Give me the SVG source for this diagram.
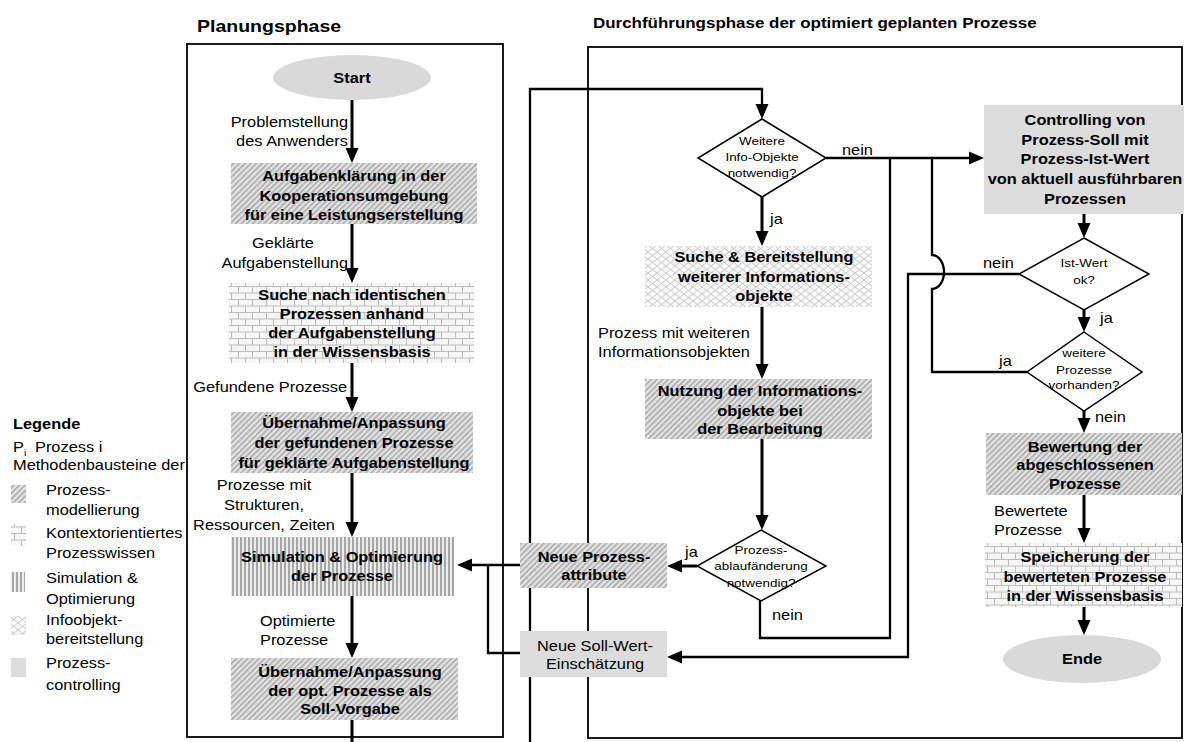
<svg xmlns="http://www.w3.org/2000/svg" width="1184" height="742" viewBox="0 0 1184 742">
  <style>
    .t { font-family: "Liberation Sans", Arial, sans-serif; font-size: 14px; fill: #000; }
    .b { font-weight: bold; }
    .c { text-anchor: middle; }
    .e { text-anchor: end; }
    .s { font-size: 11.5px; }
    .frame { fill: none; stroke: #1a1a1a; stroke-width: 2; }
    .flow { fill: none; stroke: #000; stroke-width: 3; }
    .link { fill: none; stroke: #000; stroke-width: 2.3; }
    .dia { fill: #fff; stroke: #000; stroke-width: 1.5; }
  </style>
  <defs>
    <marker id="arr" markerUnits="userSpaceOnUse" markerWidth="16" markerHeight="14" refX="11" refY="7" orient="auto">
      <path d="M0,0.5 L15,7 L0,13.5 z" fill="#000"/>
    </marker>
    <!-- Prozessmodellierung: diagonal hatch -->
    <pattern id="hatch" width="4" height="4" patternUnits="userSpaceOnUse" patternTransform="rotate(45)">
      <rect width="4" height="4" fill="#e3e3e3"/>
      <rect width="1.6" height="4" fill="#a9a9a9"/>
    </pattern>
    <!-- Kontextorientiertes Prozesswissen: brick -->
    <pattern id="brick" width="14" height="13" patternUnits="userSpaceOnUse">
      <rect width="14" height="13" fill="#f6f6f6"/>
      <path d="M0,0.5H14 M0,7H14 M0.5,0V7 M7.5,7V13" stroke="#bcbcbc" stroke-width="1"/>
    </pattern>
    <!-- Simulation & Optimierung: vertical stripes -->
    <pattern id="stripes" width="4" height="10" patternUnits="userSpaceOnUse">
      <rect width="4" height="10" fill="#ebebeb"/>
      <rect width="2" height="10" fill="#a6a6a6"/>
    </pattern>
    <!-- Infoobjektbereitstellung: cross mesh -->
    <pattern id="cross" width="9" height="7" patternUnits="userSpaceOnUse">
      <rect width="9" height="7" fill="#f8f8f8"/>
      <path d="M0,0L9,7M0,7L9,0" stroke="#c2c2c2" stroke-width="0.9"/>
    </pattern>
  </defs>

  <rect width="1184" height="742" fill="#fff"/>

  <!-- phase titles and frames -->
  <g id="phases">
    <text class="t b" transform="translate(197 32) scale(1.22 1)" style="font-size:16px">Planungsphase</text>
    <text class="t b" transform="translate(593 28) scale(1.17 1)" style="font-size:14.5px">Durchführungsphase der optimiert geplanten Prozesse</text>
    <rect class="frame" x="187" y="44" width="316" height="693"/>
    <rect class="frame" x="588" y="47" width="594" height="691"/>
  </g>

  <!-- connectors -->
  <g id="connectors">
    <path class="flow" d="M352,100V159" marker-end="url(#arr)"/>
    <path class="flow" d="M352,224V279" marker-end="url(#arr)"/>
    <path class="flow" d="M352,363V408" marker-end="url(#arr)"/>
    <path class="flow" d="M352,473V533" marker-end="url(#arr)"/>
    <path class="flow" d="M352,596V654" marker-end="url(#arr)"/>
    <path class="flow" d="M352,720V742"/>

    <path class="link" d="M530,742V89H762V115" marker-end="url(#arr)"/>
    <path class="flow" d="M762,197V242" marker-end="url(#arr)"/>
    <path class="flow" d="M762,307V375" marker-end="url(#arr)"/>
    <path class="flow" d="M762,439V526" marker-end="url(#arr)"/>
    <path class="flow" d="M697,566H671" marker-end="url(#arr)"/>
    <path class="link" d="M520,565H461" marker-end="url(#arr)"/>
    <path class="link" d="M520,653H488V565"/>
    <path class="link" d="M760,601V638H890V158"/>
    <path class="link" d="M826,158H980" marker-end="url(#arr)"/>
    <path class="link" d="M1027,372H932V289A12,17 0 0 0 932,255V158"/>
    <path class="link" d="M1019,274H908V657H671" marker-end="url(#arr)"/>

    <path class="flow" d="M1084,214V234" marker-end="url(#arr)"/>
    <path class="flow" d="M1084,310V328" marker-end="url(#arr)"/>
    <path class="flow" d="M1084,411V429" marker-end="url(#arr)"/>
    <path class="flow" d="M1084,495V539" marker-end="url(#arr)"/>
    <path class="flow" d="M1084,607V631" marker-end="url(#arr)"/>
  </g>

  <!-- connector labels -->
  <g id="labels">
    <text class="t e" transform="translate(348 127) scale(1.17 1)"><tspan x="0">Problemstellung</tspan><tspan x="0" dy="19">des Anwenders</tspan></text>
    <text class="t c" transform="translate(283 248) scale(1.17 1)">Geklärte</text>
    <text class="t e" transform="translate(348 268) scale(1.17 1)">Aufgabenstellung</text>
    <text class="t e" transform="translate(347 392) scale(1.17 1)">Gefundene Prozesse</text>
    <text class="t c" transform="translate(264 490) scale(1.17 1)"><tspan x="0">Prozesse mit</tspan><tspan x="0" dy="20">Strukturen,</tspan><tspan x="0" dy="20">Ressourcen, Zeiten</tspan></text>
    <text class="t" transform="translate(260 626) scale(1.17 1)"><tspan x="0">Optimierte</tspan><tspan x="0" dy="19">Prozesse</tspan></text>

    <text class="t" transform="translate(842 155) scale(1.17 1)">nein</text>
    <text class="t" transform="translate(770 224) scale(1.17 1)">ja</text>
    <text class="t" transform="translate(598 338) scale(1.17 1)"><tspan x="0">Prozess mit weiteren</tspan><tspan x="0" dy="19">Informationsobjekten</tspan></text>
    <text class="t" transform="translate(685 557) scale(1.17 1)">ja</text>
    <text class="t" transform="translate(772 620) scale(1.17 1)">nein</text>

    <text class="t" transform="translate(983 268) scale(1.17 1)">nein</text>
    <text class="t" transform="translate(1100 323) scale(1.17 1)">ja</text>
    <text class="t" transform="translate(999 366) scale(1.17 1)">ja</text>
    <text class="t" transform="translate(1095 422) scale(1.17 1)">nein</text>
    <text class="t" transform="translate(994 516) scale(1.17 1)"><tspan x="0">Bewertete</tspan><tspan x="0" dy="19">Prozesse</tspan></text>
  </g>

  <!-- planning phase nodes -->
  <g id="start">
    <ellipse cx="352" cy="77.5" rx="79" ry="22.5" fill="#d9d9d9"/>
    <text class="t b c" transform="translate(352 83) scale(1.17 1)">Start</text>
  </g>
  <g id="aufgabenklaerung">
    <rect x="231" y="163" width="246" height="61" fill="url(#hatch)"/>
    <text class="t b c" transform="translate(354 181) scale(1.17 1)"><tspan x="0">Aufgabenklärung in der</tspan><tspan x="0" dy="20">Kooperationsumgebung</tspan><tspan x="0" dy="19">für eine Leistungserstellung</tspan></text>
  </g>
  <g id="suche-prozesse">
    <rect x="229" y="283" width="245" height="80" fill="url(#brick)"/>
    <text class="t b c" transform="translate(352 300) scale(1.17 1)"><tspan x="0">Suche nach identischen</tspan><tspan x="0" dy="19">Prozessen anhand</tspan><tspan x="0" dy="19">der Aufgabenstellung</tspan><tspan x="0" dy="19">in der Wissensbasis</tspan></text>
  </g>
  <g id="uebernahme-gefunden">
    <rect x="231" y="412" width="242" height="61" fill="url(#hatch)"/>
    <text class="t b c" transform="translate(354 428) scale(1.17 1)"><tspan x="0">Übernahme/Anpassung</tspan><tspan x="0" dy="20">der gefundenen Prozesse</tspan><tspan x="0" dy="20">für geklärte Aufgabenstellung</tspan></text>
  </g>
  <g id="simulation">
    <rect x="231" y="537" width="223" height="59" fill="url(#stripes)"/>
    <text class="t b c" transform="translate(342 562) scale(1.17 1)"><tspan x="0">Simulation &amp; Optimierung</tspan><tspan x="0" dy="19">der Prozesse</tspan></text>
  </g>
  <g id="uebernahme-opt">
    <rect x="231" y="658" width="227" height="62" fill="url(#hatch)"/>
    <text class="t b c" transform="translate(350 677) scale(1.17 1)"><tspan x="0">Übernahme/Anpassung</tspan><tspan x="0" dy="19">der opt. Prozesse als</tspan><tspan x="0" dy="18">Soll-Vorgabe</tspan></text>
  </g>

  <!-- execution phase nodes -->
  <g id="neue-attribute">
    <rect x="520" y="543" width="147" height="45" fill="url(#hatch)"/>
    <text class="t b c" transform="translate(594 562) scale(1.17 1)"><tspan x="0">Neue Prozess-</tspan><tspan x="0" dy="18">attribute</tspan></text>
  </g>
  <g id="neue-soll-wert">
    <rect x="520" y="631" width="147" height="46" fill="#dcdcdc"/>
    <text class="t c" transform="translate(595 651) scale(1.17 1)"><tspan x="0">Neue Soll-Wert-</tspan><tspan x="0" dy="18">Einschätzung</tspan></text>
  </g>
  <g id="weitere-info">
    <polygon class="dia" points="762,119 826,158 762,197 698,158"/>
    <text class="t s c" transform="translate(762 145) scale(1.17 1)"><tspan x="0">Weitere</tspan><tspan x="0" dy="16">Info-Objekte</tspan><tspan x="0" dy="16">notwendig?</tspan></text>
  </g>
  <g id="suche-info">
    <rect x="645" y="246" width="227" height="61" fill="url(#cross)"/>
    <text class="t b c" transform="translate(764 262) scale(1.17 1)"><tspan x="0">Suche &amp; Bereitstellung</tspan><tspan x="0" dy="20">weiterer Informations-</tspan><tspan x="0" dy="19">objekte</tspan></text>
  </g>
  <g id="nutzung">
    <rect x="645" y="379" width="227" height="60" fill="url(#hatch)"/>
    <text class="t b c" transform="translate(760 396) scale(1.17 1)"><tspan x="0">Nutzung der Informations-</tspan><tspan x="0" dy="20">objekte bei</tspan><tspan x="0" dy="18">der Bearbeitung</tspan></text>
  </g>
  <g id="ablaufaenderung">
    <polygon class="dia" points="761,530 826,566 761,601 697,566"/>
    <text class="t s c" transform="translate(761 554) scale(1.17 1)"><tspan x="0">Prozess-</tspan><tspan x="0" dy="16">ablaufänderung</tspan><tspan x="0" dy="17">notwendig?</tspan></text>
  </g>
  <g id="controlling">
    <rect x="984" y="105" width="200" height="109" fill="#dcdcdc"/>
    <text class="t b c" transform="translate(1085 125) scale(1.17 1)"><tspan x="0">Controlling von</tspan><tspan x="0" dy="20">Prozess-Soll mit</tspan><tspan x="0" dy="19">Prozess-Ist-Wert</tspan><tspan x="0" dy="20">von aktuell ausführbaren</tspan><tspan x="0" dy="20">Prozessen</tspan></text>
  </g>
  <g id="ist-wert">
    <polygon class="dia" points="1084,238 1149,274 1084,310 1019,274"/>
    <text class="t s c" transform="translate(1084 267) scale(1.17 1)"><tspan x="0">Ist-Wert</tspan><tspan x="0" dy="17">ok?</tspan></text>
  </g>
  <g id="weitere-prozesse">
    <polygon class="dia" points="1084,332 1142,372 1084,411 1027,372"/>
    <text class="t s c" transform="translate(1084 357) scale(1.17 1)"><tspan x="0">weitere</tspan><tspan x="0" dy="17">Prozesse</tspan><tspan x="0" dy="15">vorhanden?</tspan></text>
  </g>
  <g id="bewertung">
    <rect x="986" y="433" width="196" height="62" fill="url(#hatch)"/>
    <text class="t b c" transform="translate(1085 452) scale(1.17 1)"><tspan x="0">Bewertung der</tspan><tspan x="0" dy="18">abgeschlossenen</tspan><tspan x="0" dy="19">Prozesse</tspan></text>
  </g>
  <g id="speicherung">
    <rect x="985" y="543" width="197" height="64" fill="url(#brick)"/>
    <text class="t b c" transform="translate(1085 562) scale(1.17 1)"><tspan x="0">Speicherung der</tspan><tspan x="0" dy="20">bewerteten Prozesse</tspan><tspan x="0" dy="19">in der Wissensbasis</tspan></text>
  </g>
  <g id="ende">
    <ellipse cx="1082" cy="659" rx="79" ry="24" fill="#d9d9d9"/>
    <text class="t b c" transform="translate(1082 664) scale(1.17 1)">Ende</text>
  </g>

  <!-- legend -->
  <g id="legend">
    <text class="t b" transform="translate(13 429) scale(1.17 1)">Legende</text>
    <text class="t" transform="translate(13 452) scale(1.17 1)">P</text>
    <text class="t" transform="translate(24 456) scale(1.17 1)" style="font-size:9px">i</text>
    <text class="t" transform="translate(35 452) scale(1.17 1)">Prozess i</text>
    <text class="t" transform="translate(13 470) scale(1.17 1)">Methodenbausteine der</text>
    <rect x="11" y="485" width="15" height="18" fill="url(#hatch)"/>
    <text class="t" transform="translate(46 495) scale(1.17 1)"><tspan x="0">Prozess-</tspan><tspan x="0" dy="20">modellierung</tspan></text>
    <rect x="11" y="524" width="15" height="22" fill="url(#brick)"/>
    <text class="t" transform="translate(46 538) scale(1.17 1)"><tspan x="0">Kontextorientiertes</tspan><tspan x="0" dy="20">Prozesswissen</tspan></text>
    <rect x="11" y="572" width="14" height="20" fill="url(#stripes)"/>
    <text class="t" transform="translate(46 583) scale(1.17 1)"><tspan x="0">Simulation &amp;</tspan><tspan x="0" dy="21">Optimierung</tspan></text>
    <rect x="11" y="616" width="15" height="19" fill="url(#cross)"/>
    <text class="t" transform="translate(46 625) scale(1.17 1)"><tspan x="0">Infoobjekt-</tspan><tspan x="0" dy="19">bereitstellung</tspan></text>
    <rect x="11" y="658" width="15" height="19" fill="#dcdcdc"/>
    <text class="t" transform="translate(46 668) scale(1.17 1)"><tspan x="0">Prozess-</tspan><tspan x="0" dy="22">controlling</tspan></text>
  </g>
</svg>
